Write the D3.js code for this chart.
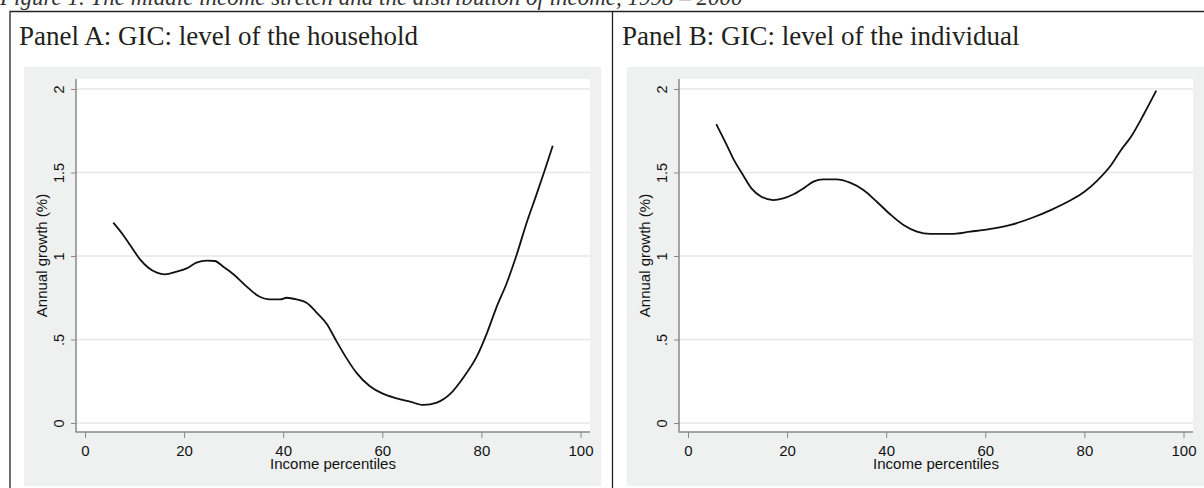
<!DOCTYPE html>
<html>
<head>
<meta charset="utf-8">
<script src="https://cdn.jsdelivr.net/npm/d3@7"></script>
<style>
  body { margin: 0; background: #fff; }
  svg { display: block; }
</style>
</head>
<body>
<svg id="chart" width="1204" height="488"></svg>
<script>
// Data
const pctA = [5.7, 7.7, 9.1, 11.1, 12.8, 14.5, 16.1, 18.5, 20.5, 22.5, 24.6, 26.2, 27.9, 29.9, 32.3, 35.0, 37.3, 39.4, 40.7, 42.7, 44.7, 46.8, 48.8, 50.8, 52.8, 54.8, 57.5, 60.2, 62.9, 65.6, 68.3, 71.0, 73.7, 76.3, 79.1, 81.1, 83.1, 85.1, 87.1, 89.1, 91.2, 92.8, 94.4];
const growthA = [1.20, 1.126, 1.066, 0.98, 0.93, 0.90, 0.89, 0.906, 0.926, 0.96, 0.972, 0.97, 0.936, 0.892, 0.826, 0.76, 0.74, 0.74, 0.75, 0.74, 0.72, 0.66, 0.593, 0.487, 0.387, 0.30, 0.22, 0.174, 0.148, 0.128, 0.108, 0.122, 0.174, 0.27, 0.40, 0.537, 0.697, 0.837, 1.006, 1.196, 1.375, 1.515, 1.66];

const pctB = [5.7, 7.8, 9.1, 11.1, 12.8, 14.8, 17.2, 19.2, 21.3, 23.3, 25.3, 27.3, 30.0, 32.7, 35.4, 38.1, 40.8, 43.5, 46.2, 48.9, 53.0, 57.0, 61.1, 65.1, 69.2, 73.2, 77.3, 80.0, 82.7, 85.4, 87.4, 89.4, 92.1, 94.5];
const growthB = [1.789, 1.665, 1.585, 1.485, 1.405, 1.355, 1.335, 1.345, 1.37, 1.405, 1.445, 1.459, 1.459, 1.439, 1.395, 1.325, 1.25, 1.186, 1.146, 1.132, 1.132, 1.146, 1.162, 1.186, 1.226, 1.275, 1.335, 1.385, 1.455, 1.545, 1.635, 1.714, 1.855, 1.99];

const xTicks = [0, 20, 40, 60, 80, 100];
const yTicks = [0, 0.5, 1, 1.5, 2];
const yTickLabels = ["0", ".5", "1", "1.5", "2"];

const panelTitles = ["Panel A: GIC: level of the household", "Panel B: GIC: level of the individual"];
const caption = "Figure 1. The middle income stretch and the distribution of income, 1998 – 2000";

const svg = d3.select("#chart");
const sans = "Liberation Sans, Arial, sans-serif";
const serif = "Liberation Serif, Times New Roman, serif";

// Caption, cut off by the top of the picture
svg.append("text")
    .attr("x", 0)
    .attr("y", 5)
    .attr("font-family", serif)
    .attr("font-style", "italic")
    .attr("font-size", 23)
    .attr("fill", "#333")
    .text(caption);

// Outer frame and divider between the panels
svg.append("path")
    .attr("d", "M10,488 V11.5 H1204 M612.5,11.5 V488")
    .attr("fill", "none")
    .attr("stroke", "#222")
    .attr("stroke-width", 1.3);

const panels = [
    { ox: 0, title: panelTitles[0], pct: pctA, growth: growthA },
    { ox: 603, title: panelTitles[1], pct: pctB, growth: growthB }
];

// Plot area, same for both panels before offset
const plot = { left: 76, right: 590, top: 79, bottom: 432 };

panels.forEach(p => {
    const g = svg.append("g").attr("transform", `translate(${p.ox},0)`);

    g.append("text")
        .attr("x", 19)
        .attr("y", 45)
        .attr("font-family", serif)
        .attr("font-size", 27)
        .attr("fill", "#231f20")
        .text(p.title);

    // Stata style grey graph region and white plot region
    g.append("rect")
        .attr("x", 24).attr("y", 67)
        .attr("width", 577).attr("height", 419)
        .attr("fill", "#eff1f1");

    g.append("rect")
        .attr("x", plot.left).attr("y", plot.top)
        .attr("width", plot.right - plot.left).attr("height", plot.bottom - plot.top)
        .attr("fill", "#fff");

    const x = d3.scaleLinear().domain([0, 100]).range([plot.left + 9, plot.right - 9.5]);
    const y = d3.scaleLinear().domain([0, 2]).range([423, 89]);

    // Gridlines
    g.selectAll(".grid")
        .data(yTicks)
        .enter()
        .append("line")
        .attr("class", "grid")
        .attr("x1", plot.left).attr("x2", plot.right)
        .attr("y1", d => y(d)).attr("y2", d => y(d))
        .attr("stroke", "#e6e7e7")
        .attr("stroke-width", 1.3);

    // Y axis
    const yAxis = g.append("g")
        .attr("transform", `translate(${plot.left},0)`)
        .call(d3.axisLeft(y).tickValues(yTicks).tickSize(5).tickPadding(7)
            .tickFormat((d, i) => yTickLabels[i]));
    yAxis.select(".domain")
        .attr("d", `M0,${plot.top}V${plot.bottom + 0.5}`)
        .attr("stroke", "#888").attr("stroke-width", 1.5);
    yAxis.selectAll(".tick line").attr("stroke", "#888");
    yAxis.selectAll(".tick text")
        .attr("font-family", sans)
        .attr("font-size", 14.5)
        .attr("fill", "#111")
        .attr("x", null).attr("dy", null)
        .attr("text-anchor", "middle")
        .attr("transform", "translate(-12,0) rotate(-90)");

    // X axis
    const xAxis = g.append("g")
        .attr("transform", `translate(0,${plot.bottom})`)
        .call(d3.axisBottom(x).tickValues(xTicks).tickSize(6).tickPadding(7));
    xAxis.select(".domain")
        .attr("d", `M${plot.left},0H${plot.right}`)
        .attr("stroke", "#888").attr("stroke-width", 1.5);
    xAxis.selectAll(".tick line").attr("stroke", "#888");
    xAxis.selectAll(".tick text")
        .attr("font-family", sans)
        .attr("font-size", 15)
        .attr("fill", "#111")
        .attr("dy", null)
        .attr("y", 24);

    // Axis titles
    g.append("text")
        .attr("x", (plot.left + plot.right) / 2)
        .attr("y", 469)
        .attr("text-anchor", "middle")
        .attr("font-family", sans)
        .attr("font-size", 15)
        .attr("fill", "#111")
        .text("Income percentiles");

    g.append("text")
        .attr("transform", `translate(47,${(plot.top + plot.bottom) / 2}) rotate(-90)`)
        .attr("text-anchor", "middle")
        .attr("font-family", sans)
        .attr("font-size", 15)
        .attr("fill", "#111")
        .text("Annual growth (%)");

    // The curve itself
    const line = d3.line()
        .x((d, i) => x(p.pct[i]))
        .y(d => y(d))
        .curve(d3.curveMonotoneX);

    g.append("path")
        .datum(p.growth)
        .attr("d", line)
        .attr("fill", "none")
        .attr("stroke", "#111")
        .attr("stroke-width", 1.8);
});
</script>
</body>
</html>
